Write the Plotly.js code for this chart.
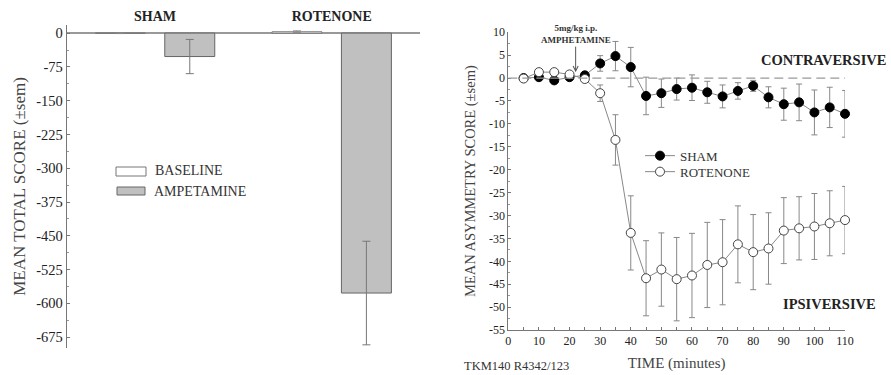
<!DOCTYPE html>
<html>
<head>
<meta charset="utf-8">
<script src="https://cdn.plot.ly/plotly-3.0.1.min.js"></script>
<style>html,body{margin:0;padding:0;background:#fff;}#chart{width:891px;height:375px;}</style>
</head>
<body>
<div id="chart"></div>
<script>
// ---- Left panel data ----
const groups = ['SHAM', 'ROTENONE'];
const baselineMean = [0, 3];
const baselineSem = [1, 2];
const amphMean = [-52, -577];
const amphSem = [38, 115];
const leftTickVals = [0, -75, -150, -225, -300, -375, -450, -525, -600, -675];
const leftTickText = ['0', '-75', '-150', '-225', '-300', '-375', '-450', '-525', '-600', '-675'];

// ---- Right panel data ----
const timeMin = [5, 10, 15, 20, 25, 30, 35, 40, 45, 50, 55, 60, 65, 70, 75, 80, 85, 90, 95, 100, 105, 110];
const shamMean = [0, 0.2, -0.5, 0.2, 0.6, 3.2, 4.8, 2.4, -3.9, -3.3, -2.4, -2.1, -3.1, -4.0, -2.8, -1.7, -4.2, -5.7, -5.3, -7.5, -6.4, -7.8];
const shamSem = [0.3, 0.5, 0.5, 0.5, 0.5, 1.7, 3.2, 4.3, 4.1, 3.1, 2.4, 2.8, 2.4, 2.5, 1.8, 1.2, 2.3, 3.5, 4.0, 4.9, 4.4, 5.1];
const rotMean = [-0.1, 1.3, 1.3, 0.8, -0.2, -3.3, -13.5, -33.8, -43.7, -41.8, -43.9, -43.1, -40.8, -40.2, -36.3, -38.0, -37.2, -33.3, -32.8, -32.4, -31.7, -31.0];
const rotSem = [0.3, 0.5, 0.5, 0.5, 0.5, 1.8, 5.5, 8.1, 8.2, 8.0, 9.1, 9.2, 9.3, 9.3, 8.4, 8.2, 7.8, 7.2, 6.9, 7.2, 7.1, 7.35];
const rightYTickVals = [10, 5, 0, -5, -10, -15, -20, -25, -30, -35, -40, -45, -50, -55];
const rightYTickText = ['10', '5', '0', '-5', '-10', '-15', '-20', '-25', '-30', '-35', '-40', '-45', '-50', '-55'];
const rightXTickVals = [0, 10, 20, 30, 40, 50, 60, 70, 80, 90, 100, 110];

const serif = 'Liberation Serif, Times New Roman, serif';
const errStyle = {type: 'data', visible: true, color: '#888', thickness: 1, width: 3};

const traces = [
  {
    type: 'bar', name: 'BASELINE', x: groups, y: baselineMean,
    xaxis: 'x', yaxis: 'y', showlegend: false,
    marker: {color: '#ffffff', line: {color: '#777', width: 1}},
    error_y: Object.assign({array: baselineSem}, errStyle, {width: 4})
  },
  {
    type: 'bar', name: 'AMPETAMINE', x: groups, y: amphMean,
    xaxis: 'x', yaxis: 'y', showlegend: false,
    marker: {color: '#c0c0c0', line: {color: '#666', width: 1}},
    error_y: Object.assign({array: amphSem}, errStyle, {width: 4, color: '#777'})
  },
  {
    type: 'scatter', mode: 'lines+markers', name: 'SHAM', x: timeMin, y: shamMean,
    xaxis: 'x2', yaxis: 'y2', cliponaxis: false, legend: 'legend',
    line: {color: '#888', width: 1},
    marker: {symbol: 'circle', size: 9, color: '#000', line: {color: '#000', width: 1}},
    error_y: Object.assign({array: shamSem}, errStyle)
  },
  {
    type: 'scatter', mode: 'lines+markers', name: 'ROTENONE', x: timeMin, y: rotMean,
    xaxis: 'x2', yaxis: 'y2', cliponaxis: false, legend: 'legend2',
    line: {color: '#888', width: 1},
    marker: {symbol: 'circle', size: 9, color: '#fff', line: {color: '#444', width: 1}},
    error_y: Object.assign({array: rotSem}, errStyle)
  }
];

const legendFont = {family: serif, size: 13, color: '#333'};
const layout = {
  width: 891, height: 375,
  margin: {l: 0, r: 0, t: 0, b: 0},
  paper_bgcolor: '#fff', plot_bgcolor: '#fff',
  font: {family: serif, color: '#222', size: 13},
  barmode: 'group', bargap: 0.214, bargroupgap: 0.28,
  showlegend: true,
  legend: {x: 640/891, y: 1 - 155.7/375, xanchor: 'left', yanchor: 'middle', bgcolor: 'rgba(0,0,0,0)',
           font: legendFont, borderwidth: 0},
  legend2: {x: 640/891, y: 1 - 171.7/375, xanchor: 'left', yanchor: 'middle', bgcolor: 'rgba(0,0,0,0)',
           font: legendFont, borderwidth: 0},
  xaxis: {
    domain: [0.0749, 0.4714], anchor: 'y', type: 'category', side: 'top',
    showline: false, ticks: '', showgrid: false, zeroline: false, automargin: false,
    tickfont: {family: serif, size: 14, color: '#222', weight: 'bold'}
  },
  yaxis: {
    domain: [0.072, 0.9333], anchor: 'x', range: [-699, 18],
    showline: true, linecolor: '#777', linewidth: 1,
    ticks: 'inside', ticklen: 3, tickcolor: '#777',
    tickmode: 'array', tickvals: leftTickVals, ticktext: leftTickText,
    minor: {ticks: 'inside', ticklen: 2, tickcolor: '#999', dtick: 37.5, tick0: 0},
    showgrid: false, zeroline: true, zerolinecolor: '#999', zerolinewidth: 1.5,
    automargin: false,
    tickfont: {family: serif, size: 14.5, color: '#222'},
    title: {text: 'MEAN TOTAL SCORE (±sem)', font: {family: serif, size: 17, color: '#444'}, standoff: 6}
  },
  xaxis2: {
    domain: [0.5705, 0.9484], anchor: 'y2', range: [0, 110],
    showline: true, linecolor: '#777', linewidth: 1,
    ticks: 'inside', ticklen: 3, tickcolor: '#777',
    tickmode: 'array', tickvals: rightXTickVals,
    minor: {ticks: 'inside', ticklen: 3, tickcolor: '#777', dtick: 5, tick0: 0},
    showgrid: false, zeroline: false, automargin: false,
    tickfont: {family: serif, size: 12, color: '#222'},
    title: {text: 'TIME (minutes)', font: {family: serif, size: 15, color: '#444'}, standoff: 10}
  },
  yaxis2: {
    domain: [0.12, 0.9139], anchor: 'x2', range: [-55, 10],
    showline: true, linecolor: '#777', linewidth: 1,
    ticks: 'inside', ticklen: 3, tickcolor: '#777',
    tickmode: 'array', tickvals: rightYTickVals, ticktext: rightYTickText,
    minor: {ticks: 'inside', ticklen: 2, tickcolor: '#999', dtick: 2.5, tick0: 0},
    showgrid: false, zeroline: false, automargin: false,
    tickfont: {family: serif, size: 12, color: '#222'},
    title: {text: 'MEAN ASYMMETRY SCORE (±sem)', font: {family: serif, size: 14.5, color: '#444'}, standoff: 9}
  },
  shapes: [
    // reference line at zero (right panel)
    {type: 'line', xref: 'x2', yref: 'y2', x0: 0, x1: 114, y0: 0, y1: 0,
     line: {color: '#999', width: 1.2, dash: '9px,5px'}},
    // left legend swatches
    {type: 'rect', xref: 'paper', yref: 'paper', x0: 116/891, x1: 146/891, y0: 1 - 176/375, y1: 1 - 167/375,
     fillcolor: '#fff', line: {color: '#777', width: 1}},
    {type: 'rect', xref: 'paper', yref: 'paper', x0: 117/891, x1: 145/891, y0: 1 - 195/375, y1: 1 - 187/375,
     fillcolor: '#c0c0c0', line: {color: '#666', width: 1}}
  ],
  annotations: [
    {xref: 'paper', yref: 'paper', x: 153/891, y: 1 - 171/375, xanchor: 'left', yanchor: 'middle',
     text: 'BASELINE', showarrow: false, font: {family: serif, size: 14, color: '#333'}},
    {xref: 'paper', yref: 'paper', x: 152/891, y: 1 - 191/375, xanchor: 'left', yanchor: 'middle',
     text: 'AMPETAMINE', showarrow: false, font: {family: serif, size: 14, color: '#333'}},
    {xref: 'x2', yref: 'y2', x: 22, y: 1.3, text: '5mg/kg i.p.<br>AMPHETAMINE',
     showarrow: true, arrowhead: 5, arrowsize: 1, arrowwidth: 1, arrowcolor: '#555', ax: 0, ay: -38,
     font: {family: serif, size: 9, color: '#333', weight: 'bold'}},
    {xref: 'x2', yref: 'y2', x: 103.1, y: 3.95, text: 'CONTRAVERSIVE', showarrow: false,
     font: {family: serif, size: 14.5, color: '#222', weight: 'bold'}},
    {xref: 'x2', yref: 'y2', x: 104.9, y: -49.3, text: 'IPSIVERSIVE', showarrow: false,
     font: {family: serif, size: 14.5, color: '#222', weight: 'bold'}},
    {xref: 'paper', yref: 'paper', x: 462/891, y: 1 - 366/375, xanchor: 'left', yanchor: 'middle',
     text: 'TKM140 R4342/123', showarrow: false, font: {family: serif, size: 12.5, color: '#333'}}
  ]
};

Plotly.newPlot('chart', traces, layout, {displayModeBar: false, staticPlot: true});
</script>
</body>
</html>
